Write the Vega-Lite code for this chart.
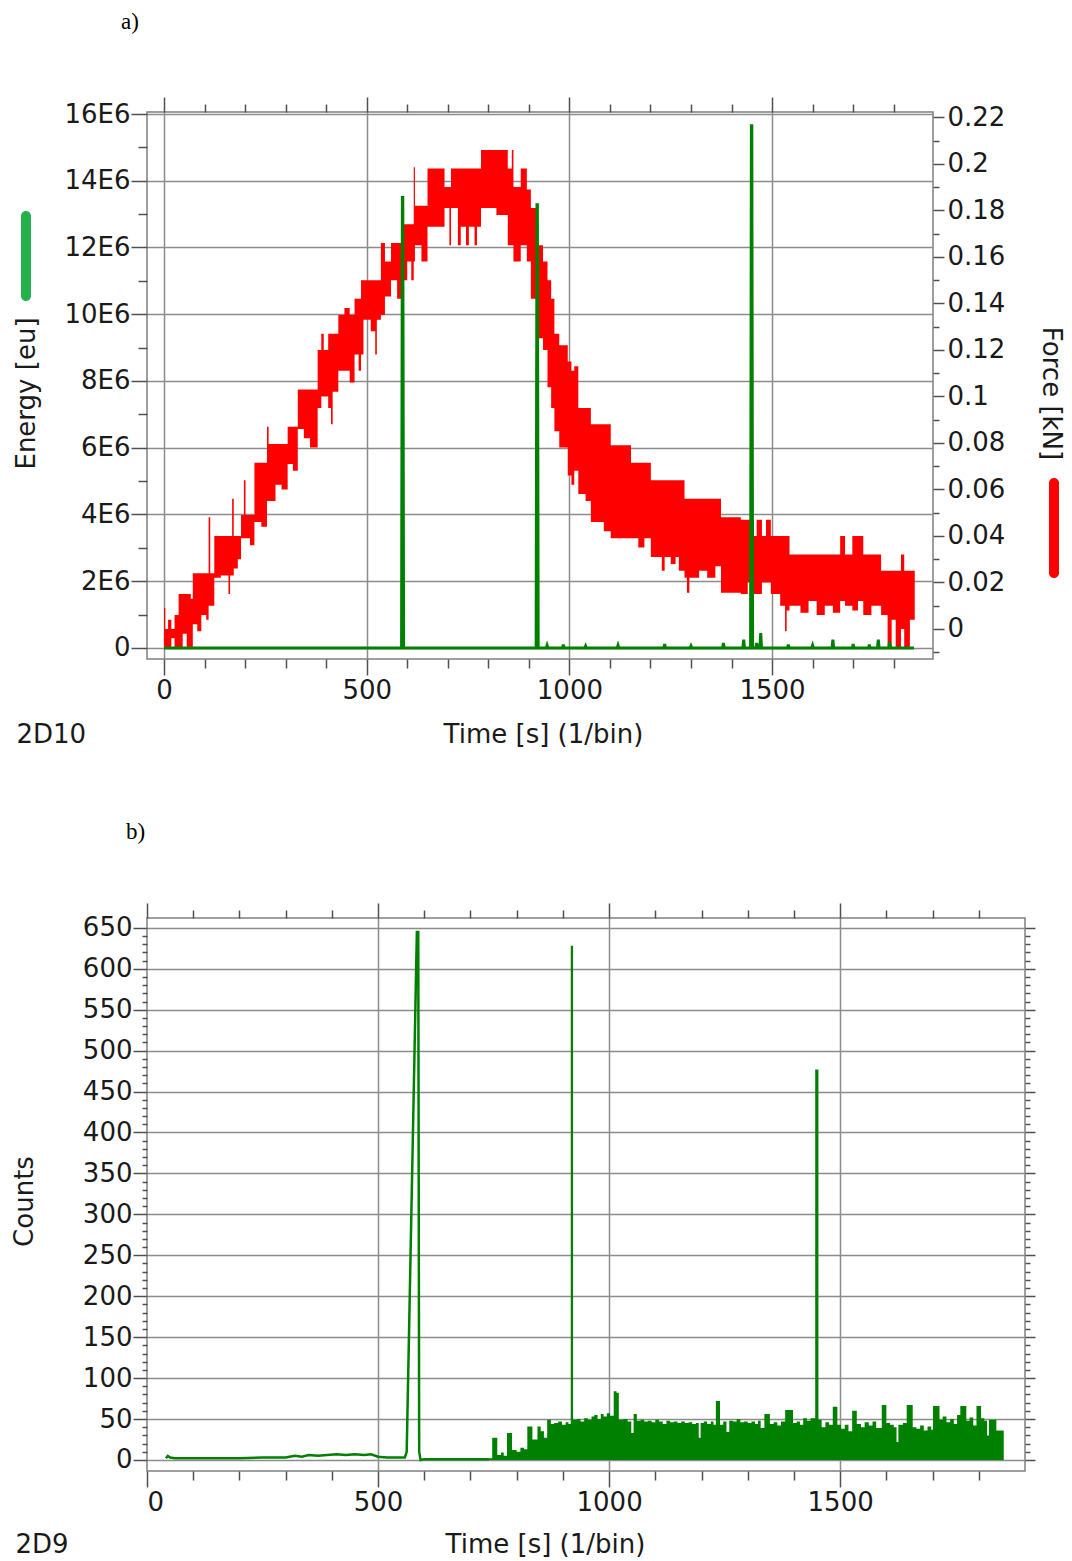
{
  "$schema": "https://vega.github.io/schema/vega-lite/v6.json",
  "background": "white",
  "padding": {"left": 10, "top": 10, "right": 10, "bottom": 0},
  "spacing": 72,
  "config": {
    "view": {"stroke": "#808080", "strokeWidth": 1.5},
    "font": "DejaVu Sans",
    "axis": {
      "labelFont": "DejaVu Sans", "labelFontSize": 26, "labelColor": "#1a1a1a",
      "titleFont": "DejaVu Sans", "titleFontSize": 26, "titleFontWeight": "normal", "titleColor": "#1a1a1a",
      "domain": false, "tickColor": "#505050", "tickWidth": 1.5,
      "gridColor": "#8c8c8c", "gridWidth": 1.5, "labelPadding": 3
    },
    "title": {"font": "Liberation Serif", "fontSize": 23, "fontWeight": "normal", "color": "#000000", "anchor": "start", "frame": "group"}
  },
  "datasets": {
    "force": [
      {"t":0,"lo":-0.008,"hi":0.009},{"t":3,"lo":-0.008,"hi":0.0},{"t":10,"lo":-0.008,"hi":0.004},{"t":18,"lo":-0.004,"hi":0.0},
      {"t":26,"lo":-0.008,"hi":0.006},{"t":36,"lo":-0.008,"hi":0.015},{"t":46,"lo":-0.002,"hi":0.015},{"t":56,"lo":-0.008,"hi":0.015},
      {"t":66,"lo":-0.008,"hi":0.013},{"t":71,"lo":0.002,"hi":0.024},{"t":82,"lo":-0.001,"hi":0.024},{"t":92,"lo":0.006,"hi":0.024},
      {"t":104,"lo":0.004,"hi":0.024},{"t":110,"lo":0.010,"hi":0.048},{"t":114,"lo":0.010,"hi":0.024},{"t":124,"lo":0.022,"hi":0.040},
      {"t":140,"lo":0.023,"hi":0.040},{"t":159,"lo":0.015,"hi":0.040},{"t":163,"lo":0.023,"hi":0.040},{"t":168,"lo":0.023,"hi":0.056},
      {"t":172,"lo":0.026,"hi":0.040},{"t":182,"lo":0.030,"hi":0.040},{"t":190,"lo":0.039,"hi":0.049},{"t":197,"lo":0.039,"hi":0.064},
      {"t":201,"lo":0.039,"hi":0.049},{"t":212,"lo":0.036,"hi":0.049},{"t":223,"lo":0.046,"hi":0.0715},{"t":240,"lo":0.044,"hi":0.0715},
      {"t":254,"lo":0.055,"hi":0.087},{"t":258,"lo":0.055,"hi":0.0795},{"t":275,"lo":0.062,"hi":0.0795},{"t":290,"lo":0.060,"hi":0.0795},
      {"t":305,"lo":0.071,"hi":0.087},{"t":318,"lo":0.068,"hi":0.087},{"t":330,"lo":0.086,"hi":0.103},{"t":345,"lo":0.082,"hi":0.103},
      {"t":360,"lo":0.078,"hi":0.103},{"t":379,"lo":0.095,"hi":0.120},{"t":388,"lo":0.100,"hi":0.127},{"t":394,"lo":0.100,"hi":0.120},
      {"t":405,"lo":0.095,"hi":0.127},{"t":412,"lo":0.088,"hi":0.127},{"t":416,"lo":0.102,"hi":0.127},{"t":430,"lo":0.111,"hi":0.135},
      {"t":445,"lo":0.111,"hi":0.138},{"t":458,"lo":0.106,"hi":0.135},{"t":470,"lo":0.118,"hi":0.142},{"t":480,"lo":0.111,"hi":0.142},
      {"t":486,"lo":0.118,"hi":0.150},{"t":492,"lo":0.133,"hi":0.150},{"t":510,"lo":0.128,"hi":0.150},{"t":521,"lo":0.118,"hi":0.150},
      {"t":525,"lo":0.133,"hi":0.150},{"t":535,"lo":0.135,"hi":0.166},{"t":545,"lo":0.143,"hi":0.158},{"t":560,"lo":0.150,"hi":0.166},
      {"t":575,"lo":0.142,"hi":0.166},{"t":589,"lo":0.150,"hi":0.174},{"t":600,"lo":0.158,"hi":0.174},{"t":610,"lo":0.150,"hi":0.174},
      {"t":616,"lo":0.158,"hi":0.1985},{"t":619,"lo":0.165,"hi":0.182},{"t":635,"lo":0.158,"hi":0.182},{"t":650,"lo":0.173,"hi":0.198},
      {"t":668,"lo":0.173,"hi":0.198},{"t":692,"lo":0.181,"hi":0.190},{"t":704,"lo":0.165,"hi":0.190},{"t":708,"lo":0.181,"hi":0.198},
      {"t":725,"lo":0.165,"hi":0.198},{"t":732,"lo":0.173,"hi":0.198},{"t":745,"lo":0.165,"hi":0.198},{"t":752,"lo":0.173,"hi":0.198},
      {"t":766,"lo":0.165,"hi":0.198},{"t":772,"lo":0.173,"hi":0.198},{"t":782,"lo":0.181,"hi":0.206},{"t":800,"lo":0.181,"hi":0.206},
      {"t":820,"lo":0.178,"hi":0.206},{"t":848,"lo":0.165,"hi":0.198},{"t":858,"lo":0.165,"hi":0.206},{"t":862,"lo":0.158,"hi":0.190},
      {"t":880,"lo":0.165,"hi":0.198},{"t":895,"lo":0.158,"hi":0.189},{"t":905,"lo":0.142,"hi":0.181},{"t":920,"lo":0.125,"hi":0.165},
      {"t":935,"lo":0.120,"hi":0.158},{"t":946,"lo":0.104,"hi":0.150},{"t":955,"lo":0.095,"hi":0.142},{"t":963,"lo":0.085,"hi":0.127},
      {"t":975,"lo":0.078,"hi":0.122},{"t":996,"lo":0.066,"hi":0.115},{"t":1005,"lo":0.062,"hi":0.111},{"t":1012,"lo":0.068,"hi":0.113},
      {"t":1022,"lo":0.058,"hi":0.095},{"t":1040,"lo":0.055,"hi":0.095},{"t":1053,"lo":0.046,"hi":0.088},{"t":1070,"lo":0.046,"hi":0.088},
      {"t":1085,"lo":0.042,"hi":0.088},{"t":1102,"lo":0.039,"hi":0.079},{"t":1130,"lo":0.039,"hi":0.079},{"t":1152,"lo":0.039,"hi":0.0715},
      {"t":1170,"lo":0.035,"hi":0.0715},{"t":1185,"lo":0.039,"hi":0.0715},{"t":1201,"lo":0.031,"hi":0.064},{"t":1220,"lo":0.031,"hi":0.064},
      {"t":1228,"lo":0.025,"hi":0.064},{"t":1235,"lo":0.031,"hi":0.064},{"t":1250,"lo":0.028,"hi":0.064},{"t":1262,"lo":0.031,"hi":0.064},
      {"t":1270,"lo":0.025,"hi":0.064},{"t":1284,"lo":0.022,"hi":0.056},{"t":1290,"lo":0.0156,"hi":0.056},{"t":1296,"lo":0.022,"hi":0.056},
      {"t":1320,"lo":0.025,"hi":0.056},{"t":1340,"lo":0.022,"hi":0.056},{"t":1360,"lo":0.027,"hi":0.056},{"t":1374,"lo":0.0156,"hi":0.048},
      {"t":1400,"lo":0.0156,"hi":0.048},{"t":1423,"lo":0.015,"hi":0.047},{"t":1440,"lo":0.020,"hi":0.047},{"t":1455,"lo":0.015,"hi":0.040},
      {"t":1462,"lo":0.015,"hi":0.047},{"t":1475,"lo":0.020,"hi":0.040},{"t":1485,"lo":0.020,"hi":0.047},{"t":1497,"lo":0.015,"hi":0.040},
      {"t":1520,"lo":0.010,"hi":0.040},{"t":1532,"lo":-0.001,"hi":0.040},{"t":1536,"lo":0.008,"hi":0.040},{"t":1543,"lo":0.010,"hi":0.032},
      {"t":1570,"lo":0.007,"hi":0.032},{"t":1590,"lo":0.012,"hi":0.032},{"t":1610,"lo":0.006,"hi":0.032},{"t":1630,"lo":0.010,"hi":0.032},
      {"t":1650,"lo":0.007,"hi":0.032},{"t":1668,"lo":0.012,"hi":0.040},{"t":1680,"lo":0.010,"hi":0.032},{"t":1698,"lo":0.008,"hi":0.040},
      {"t":1712,"lo":0.012,"hi":0.040},{"t":1725,"lo":0.006,"hi":0.032},{"t":1745,"lo":0.010,"hi":0.032},{"t":1769,"lo":0.006,"hi":0.025},
      {"t":1785,"lo":-0.008,"hi":0.025},{"t":1795,"lo":0.004,"hi":0.025},{"t":1805,"lo":-0.008,"hi":0.025},{"t":1818,"lo":0.000,"hi":0.032},
      {"t":1826,"lo":-0.008,"hi":0.025},{"t":1840,"lo":0.004,"hi":0.025},{"t":1852,"lo":0.004,"hi":0.025}
    ],
    "energy": [
      {"t":0,"e":0},{"t":586,"e":0},{"t":588,"e":13500000},{"t":589,"e":13500000},{"t":591,"e":0},
      {"t":918,"e":0},{"t":920,"e":13280000},{"t":921,"e":13280000},{"t":923,"e":0},
      {"t":943,"e":0},{"t":945,"e":80000},{"t":947,"e":0},{"t":983,"e":0},{"t":985,"e":100000},{"t":987,"e":0},
      {"t":1038,"e":0},{"t":1040,"e":60000},{"t":1042,"e":0},{"t":1118,"e":0},{"t":1120,"e":80000},{"t":1122,"e":0},
      {"t":1233,"e":0},{"t":1235,"e":120000},{"t":1237,"e":0},{"t":1298,"e":0},{"t":1300,"e":60000},{"t":1302,"e":0},
      {"t":1378,"e":0},{"t":1380,"e":150000},{"t":1382,"e":0},{"t":1428,"e":0},{"t":1430,"e":250000},{"t":1432,"e":0},
      {"t":1447,"e":0},{"t":1449,"e":15650000},{"t":1450,"e":15650000},{"t":1452,"e":0},
      {"t":1460,"e":0},{"t":1462,"e":150000},{"t":1464,"e":0},{"t":1470,"e":0},{"t":1472,"e":450000},{"t":1474,"e":0},
      {"t":1538,"e":0},{"t":1540,"e":100000},{"t":1542,"e":0},{"t":1598,"e":0},{"t":1600,"e":80000},{"t":1602,"e":0},
      {"t":1648,"e":0},{"t":1650,"e":250000},{"t":1652,"e":0},{"t":1698,"e":0},{"t":1700,"e":120000},{"t":1702,"e":0},
      {"t":1738,"e":0},{"t":1740,"e":100000},{"t":1742,"e":0},{"t":1760,"e":0},{"t":1762,"e":250000},{"t":1764,"e":0},
      {"t":1788,"e":0},{"t":1790,"e":180000},{"t":1792,"e":0},{"t":1850,"e":0}
    ],
    "cntLow": [
      {"t":41,"c":2},{"t":45,"c":5},{"t":50,"c":3},{"t":60,"c":2},{"t":100,"c":2},{"t":150,"c":2},{"t":200,"c":2},{"t":250,"c":3},
      {"t":300,"c":3},{"t":320,"c":5},{"t":335,"c":4},{"t":350,"c":6},{"t":370,"c":5},{"t":390,"c":6},{"t":410,"c":7},{"t":430,"c":6},
      {"t":450,"c":7},{"t":470,"c":6},{"t":485,"c":7},{"t":500,"c":4},{"t":520,"c":3},{"t":540,"c":3},{"t":558,"c":3},{"t":562,"c":10},
      {"t":584,"c":645},{"t":587,"c":645},{"t":589,"c":10},{"t":592,"c":0},{"t":600,"c":1},{"t":650,"c":1},{"t":700,"c":1},{"t":740,"c":1}
    ],
    "cntNoise": [
      {"t":740,"c":2},{"t":747,"c":27},{"t":758,"c":6},{"t":766,"c":9},{"t":772,"c":5},{"t":779,"c":33},{"t":790,"c":12},{"t":800,"c":10},
      {"t":808,"c":15},{"t":816,"c":13},{"t":823,"c":41},{"t":834,"c":25},{"t":845,"c":41},{"t":852,"c":35},{"t":859,"c":27},{"t":866,"c":49},
      {"t":874,"c":44},{"t":881,"c":45},{"t":890,"c":47},{"t":898,"c":43},{"t":906,"c":46},{"t":912,"c":44},{"t":917,"c":628},{"t":922,"c":49},
      {"t":930,"c":50},{"t":938,"c":47},{"t":946,"c":51},{"t":954,"c":49},{"t":962,"c":53},{"t":968,"c":55},{"t":975,"c":50},{"t":982,"c":56},
      {"t":988,"c":53},{"t":995,"c":57},{"t":1002,"c":54},{"t":1010,"c":84},{"t":1016,"c":82},{"t":1021,"c":49},{"t":1030,"c":50},{"t":1040,"c":47},
      {"t":1048,"c":33},{"t":1053,"c":56},{"t":1060,"c":48},{"t":1068,"c":49},{"t":1076,"c":47},{"t":1084,"c":48},{"t":1092,"c":46},{"t":1100,"c":49},
      {"t":1108,"c":47},{"t":1116,"c":44},{"t":1124,"c":48},{"t":1132,"c":46},{"t":1140,"c":47},{"t":1148,"c":45},{"t":1156,"c":47},{"t":1164,"c":45},
      {"t":1172,"c":46},{"t":1180,"c":44},{"t":1188,"c":45},{"t":1194,"c":27},{"t":1198,"c":45},{"t":1205,"c":47},{"t":1212,"c":44},{"t":1220,"c":47},
      {"t":1226,"c":43},{"t":1231,"c":72},{"t":1240,"c":43},{"t":1247,"c":47},{"t":1254,"c":34},{"t":1260,"c":48},{"t":1268,"c":47},{"t":1276,"c":50},
      {"t":1284,"c":46},{"t":1292,"c":47},{"t":1300,"c":45},{"t":1308,"c":47},{"t":1316,"c":44},{"t":1322,"c":48},{"t":1328,"c":39},{"t":1336,"c":56},
      {"t":1348,"c":44},{"t":1356,"c":46},{"t":1364,"c":42},{"t":1372,"c":47},{"t":1381,"c":61},{"t":1398,"c":45},{"t":1406,"c":47},{"t":1413,"c":43},
      {"t":1420,"c":51},{"t":1428,"c":48},{"t":1436,"c":51},{"t":1446,"c":477},{"t":1453,"c":49},{"t":1460,"c":40},{"t":1468,"c":46},{"t":1476,"c":43},
      {"t":1484,"c":65},{"t":1494,"c":43},{"t":1502,"c":38},{"t":1510,"c":43},{"t":1518,"c":35},{"t":1526,"c":60},{"t":1536,"c":44},{"t":1545,"c":40},
      {"t":1553,"c":46},{"t":1562,"c":42},{"t":1570,"c":47},{"t":1578,"c":39},{"t":1590,"c":67},{"t":1600,"c":45},{"t":1608,"c":43},{"t":1616,"c":40},
      {"t":1622,"c":22},{"t":1626,"c":43},{"t":1636,"c":45},{"t":1644,"c":67},{"t":1657,"c":40},{"t":1665,"c":38},{"t":1673,"c":42},{"t":1681,"c":36},
      {"t":1689,"c":41},{"t":1697,"c":37},{"t":1701,"c":66},{"t":1715,"c":49},{"t":1722,"c":53},{"t":1730,"c":46},{"t":1738,"c":50},{"t":1746,"c":44},
      {"t":1753,"c":55},{"t":1760,"c":66},{"t":1773,"c":48},{"t":1780,"c":52},{"t":1788,"c":42},{"t":1795,"c":66},{"t":1805,"c":51},{"t":1812,"c":48},
      {"t":1818,"c":30},{"t":1822,"c":49},{"t":1830,"c":49},{"t":1838,"c":36},{"t":1846,"c":36},{"t":1854,"c":36}
    ]
  },
  "vconcat": [
    {
      "title": {"text": "a)", "dx": -26, "offset": 62},
      "width": 786,
      "height": 547,
      "layer": [
        {
          "data": {"name": "force"},
          "mark": {"type": "area", "interpolate": "step-after", "clip": true},
          "encoding": {
            "x": {"field": "t", "type": "quantitative", "scale": {"domain": [-42, 1897], "nice": false, "zero": false},
              "axis": {"orient": "bottom", "values": [0,100,200,300,400,500,600,700,800,900,1000,1100,1200,1300,1400,1500,1600,1700,1800],
                "format": "d", "labelExpr": "datum.value % 500 === 0 ? datum.label : ''",
                "tickSize": {"condition": {"test": "datum.value % 500 === 0", "value": 16}, "value": 9},
                "grid": true, "gridOpacity": {"condition": {"test": "datum.value % 500 === 0", "value": 1}, "value": 0},
                "labelPadding": 2,
                "title": "Time [s] (1/bin)", "titleX": 396, "titleY": 83, "titleBaseline": "alphabetic", "titleAlign": "center"}},
            "y": {"field": "hi", "type": "quantitative", "scale": {"domain": [-0.0129, 0.2223], "nice": false, "zero": false},
              "axis": {"orient": "right", "values": [-0.01,0,0.01,0.02,0.03,0.04,0.05,0.06,0.07,0.08,0.09,0.1,0.11,0.12,0.13,0.14,0.15,0.16,0.17,0.18,0.19,0.2,0.21,0.22],
                "labelExpr": "abs(round(datum.value*100)) % 2 === 0 ? format(datum.value, '') : ''",
                "tickSize": {"condition": {"test": "abs(round(datum.value*100)) % 2 === 0", "value": 11}, "value": 6},
                "grid": false, "labelPadding": 3,
                "title": "Force [kN]", "titleX": 117, "titleY": 281, "titleAngle": 90, "titleBaseline": "middle", "titleAlign": "center"}},
            "y2": {"field": "lo"},
            "fill": {"datum": "Force", "scale": {"range": ["#ff0000"]},
              "legend": {"orient": "none", "legendX": 902, "legendY": 411, "title": null, "labelExpr": "''", "labelFontSize": 1, "labelOffset": 0,
                "padding": 0, "symbolType": "M-1,-9A1,1 0 0 1 1,-9L1,9A1,1 0 0 1 -1,9Z", "symbolSize": 100, "symbolStrokeWidth": 0, "symbolOpacity": 1,
                "encode": {"symbols": {"update": {"fill": {"value": "#ed1c24"}, "strokeWidth": {"value": 0}}}}}}
          }
        },
        {
          "data": {"name": "energy"},
          "mark": {"type": "line", "strokeWidth": 3, "clip": true},
          "encoding": {
            "x": {"field": "t", "type": "quantitative", "scale": {"domain": [-42, 1897], "nice": false, "zero": false},
              "axis": {"orient": "top", "values": [0,100,200,300,400,500,600,700,800,900,1000,1100,1200,1300,1400,1500,1600,1700,1800],
                "labels": false, "grid": false,
                "tickSize": {"condition": {"test": "datum.value % 500 === 0", "value": 15}, "value": 8},
                "title": "2D10", "titleX": -131, "titleY": 630, "titleBaseline": "alphabetic", "titleAlign": "left", "titleAngle": 0}},
            "y": {"field": "e", "type": "quantitative", "scale": {"domain": [-330000, 16060000], "nice": false, "zero": false},
              "axis": {"orient": "left", "values": [0,1000000,2000000,3000000,4000000,5000000,6000000,7000000,8000000,9000000,10000000,11000000,12000000,13000000,14000000,15000000,16000000],
                "labelExpr": "datum.value % 2000000 === 0 ? (datum.value === 0 ? '0' : (datum.value / 1000000) + 'E6') : ''",
                "tickSize": {"condition": {"test": "datum.value % 2000000 === 0", "value": 16}, "value": 9},
                "grid": true, "gridOpacity": {"condition": {"test": "datum.value % 2000000 === 0", "value": 1}, "value": 0},
                "labelPadding": 1,
                "title": "Energy [eu]", "titleX": -121, "titleY": 281, "titleAngle": -90, "titleBaseline": "middle", "titleAlign": "center"}},
            "stroke": {"datum": "Energy", "scale": {"range": ["#008000"]},
              "legend": {"orient": "none", "legendX": -126, "legendY": 139, "title": null, "labelExpr": "''", "labelFontSize": 1, "labelOffset": 0,
                "padding": 0, "symbolType": "M-1,-8A1,1 0 0 1 1,-8L1,8A1,1 0 0 1 -1,8Z", "symbolSize": 100, "symbolStrokeWidth": 0, "symbolOpacity": 1,
                "encode": {"symbols": {"update": {"fill": {"value": "#22b14c"}, "strokeWidth": {"value": 0}}}}}}
          }
        }
      ],
      "resolve": {"scale": {"x": "independent", "y": "independent"}}
    },
    {
      "title": {"text": "b)", "dx": -21, "offset": 58},
      "width": 878,
      "height": 553,
      "layer": [
        {
          "data": {"name": "cntLow"},
          "mark": {"type": "line", "strokeWidth": 2.5, "color": "#008000", "clip": true},
          "encoding": {
            "x": {"field": "t", "type": "quantitative", "scale": {"domain": [0, 1900], "nice": false, "zero": false},
              "axis": {"orient": "bottom", "values": [0,100,200,300,400,500,600,700,800,900,1000,1100,1200,1300,1400,1500,1600,1700,1800],
                "format": "d", "labelExpr": "datum.value % 500 === 0 ? datum.label : ''",
                "tickSize": {"condition": {"test": "datum.value % 500 === 0", "value": 16}, "value": 9},
                "grid": true, "gridOpacity": {"condition": {"test": "datum.value % 500 === 0 && datum.value > 0", "value": 1}, "value": 0},
                "labelPadding": 2,
                "title": "Time [s] (1/bin)", "titleX": 398, "titleY": 81, "titleBaseline": "alphabetic", "titleAlign": "center"}},
            "y": {"field": "c", "type": "quantitative", "scale": {"domain": [-13.5, 662], "nice": false, "zero": false},
              "axis": {"orient": "left", "values": [0,10,20,30,40,50,60,70,80,90,100,110,120,130,140,150,160,170,180,190,200,210,220,230,240,250,260,270,280,290,300,310,320,330,340,350,360,370,380,390,400,410,420,430,440,450,460,470,480,490,500,510,520,530,540,550,560,570,580,590,600,610,620,630,640,650],
                "format": "d", "labelExpr": "datum.value % 50 === 0 ? datum.label : ''",
                "tickSize": {"condition": {"test": "datum.value % 50 === 0", "value": 14}, "value": 5},
                "grid": true, "gridOpacity": {"condition": {"test": "datum.value % 50 === 0", "value": 1}, "value": 0},
                "labelPadding": 1,
                "title": "Counts", "titleX": -123, "titleY": 283, "titleAngle": -90, "titleBaseline": "middle", "titleAlign": "center"}}
          }
        },
        {
          "data": {"name": "cntNoise"},
          "mark": {"type": "area", "interpolate": "step-after", "color": "#008000", "clip": true},
          "encoding": {
            "x": {"field": "t", "type": "quantitative", "scale": {"domain": [0, 1900], "nice": false, "zero": false},
              "axis": {"orient": "top", "values": [0,100,200,300,400,500,600,700,800,900,1000,1100,1200,1300,1400,1500,1600,1700,1800],
                "labels": false, "grid": false,
                "tickSize": {"condition": {"test": "datum.value % 500 === 0", "value": 15}, "value": 8},
                "title": "2D9", "titleX": -132, "titleY": 634, "titleBaseline": "alphabetic", "titleAlign": "left", "titleAngle": 0}},
            "y": {"field": "c", "type": "quantitative", "scale": {"domain": [-13.5, 662], "nice": false, "zero": true},
              "axis": {"orient": "right", "values": [0,10,20,30,40,50,60,70,80,90,100,110,120,130,140,150,160,170,180,190,200,210,220,230,240,250,260,270,280,290,300,310,320,330,340,350,360,370,380,390,400,410,420,430,440,450,460,470,480,490,500,510,520,530,540,550,560,570,580,590,600,610,620,630,640,650],
                "labels": false, "grid": false, "title": null,
                "tickSize": {"condition": {"test": "datum.value % 50 === 0", "value": 10}, "value": 5}}}
          }
        }
      ],
      "resolve": {"scale": {"x": "independent", "y": "independent"}}
    }
  ]
}
